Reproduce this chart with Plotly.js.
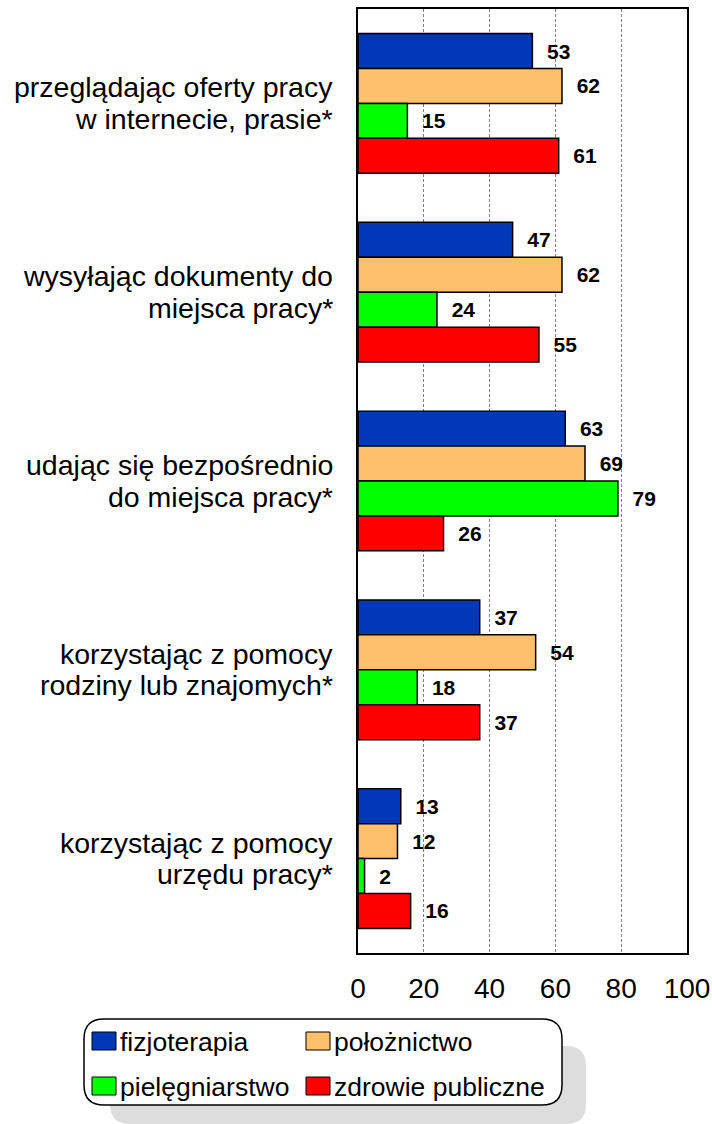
<!DOCTYPE html>
<html>
<head>
<meta charset="utf-8">
<script src="https://cdn.plot.ly/plotly-3.0.1.min.js"></script>
<style>html,body{margin:0;padding:0;background:#fff;}#chart{width:712px;height:1124px;}</style>
</head>
<body>
<div id="chart"></div>
<script>
// ---- data ----
const categories = [
  'przeglądając oferty pracy<br>w internecie, prasie*',
  'wysyłając dokumenty do<br>miejsca pracy*',
  'udając się bezpośrednio<br>do miejsca pracy*',
  'korzystając z pomocy<br>rodziny lub znajomych*',
  'korzystając z pomocy<br>urzędu pracy*'
];
const seriesNames = ['fizjoterapia', 'położnictwo', 'pielęgniarstwo', 'zdrowie publiczne'];
const fizjoterapia = [53, 47, 63, 37, 13];
const poloznictwo = [62, 62, 69, 54, 12];
const pielegniarstwo = [15, 24, 79, 18, 2];
const zdrowiePubliczne = [61, 55, 26, 37, 16];
const xTickValues = [0, 20, 40, 60, 80, 100];

const colors = ['#0038B8', '#FFC06C', '#00FF00', '#FF0000'];
const allSeries = [fizjoterapia, poloznictwo, pielegniarstwo, zdrowiePubliczne];

const FONT = 'Arial, "Liberation Sans", sans-serif';

const traces = allSeries.map((vals, i) => ({
  type: 'bar',
  orientation: 'h',
  name: seriesNames[i],
  y: categories,
  x: vals,
  marker: {color: colors[i], line: {color: '#000', width: 1.5}},
  text: vals.map(v => '\u00a0\u00a0' + v),
  textposition: 'outside',
  constraintext: 'none',
  cliponaxis: false,
  textfont: {family: FONT, size: 21, color: '#000', weight: 'bold'},
  hoverinfo: 'x+name',
  showlegend: false
}));

// plot area in pixels
const L = 358, R = 687, T = 9, B = 953;
const px = p => (p - L) / (R - L);
const py = p => (B - p) / (B - T);

function roundRect(x0, y0, x1, y1, r) {
  const X = px, Y = py;
  return 'M' + X(x0 + r) + ',' + Y(y0) +
    ' L' + X(x1 - r) + ',' + Y(y0) +
    ' Q' + X(x1) + ',' + Y(y0) + ' ' + X(x1) + ',' + Y(y0 + r) +
    ' L' + X(x1) + ',' + Y(y1 - r) +
    ' Q' + X(x1) + ',' + Y(y1) + ' ' + X(x1 - r) + ',' + Y(y1) +
    ' L' + X(x0 + r) + ',' + Y(y1) +
    ' Q' + X(x0) + ',' + Y(y1) + ' ' + X(x0) + ',' + Y(y1 - r) +
    ' L' + X(x0) + ',' + Y(y0 + r) +
    ' Q' + X(x0) + ',' + Y(y0) + ' ' + X(x0 + r) + ',' + Y(y0) + ' Z';
}

const shapes = [
  {type: 'path', xref: 'paper', yref: 'paper', path: roundRect(110, 1046, 586, 1124, 20),
   fillcolor: '#DDDDDD', line: {width: 0}},
  {type: 'path', xref: 'paper', yref: 'paper', path: roundRect(84, 1019, 562, 1105, 20),
   fillcolor: '#FFFFFF', line: {color: '#000', width: 1.5}}
];
const annotations = [];

// category labels, one annotation per text line
categories.forEach(c => {
  const lines = c.split('<br>');
  lines.forEach((t, k) => {
    annotations.push({xref: 'paper', yref: 'y', x: 0, y: c, xanchor: 'right', yanchor: 'middle',
      xshift: -23, yshift: k === 0 ? 16 : -15.5, showarrow: false, text: t,
      font: {family: FONT, size: 28.5, color: '#000'}});
  });
});

const legendPos = [[92, 1041], [306, 1041], [92, 1086], [306, 1086]];
seriesNames.forEach((n, i) => {
  const [lx, ly] = legendPos[i];
  shapes.push({type: 'rect', xref: 'paper', yref: 'paper',
    x0: px(lx), x1: px(lx + 24), y0: py(ly - 9), y1: py(ly + 9),
    fillcolor: colors[i], line: {color: '#000', width: 1}});
  annotations.push({xref: 'paper', yref: 'paper', x: px(lx + 26), y: py(ly + 1),
    xanchor: 'left', yanchor: 'middle', showarrow: false, text: n,
    font: {family: FONT, size: 26.5, color: '#000'}});
});

const layout = {
  width: 712, height: 1124,
  margin: {l: L, r: 712 - R, t: T, b: 1124 - B, pad: 0},
  paper_bgcolor: '#fff', plot_bgcolor: '#fff',
  barmode: 'group',
  bargap: 0.26,
  bargroupgap: 0,
  showlegend: false,
  font: {family: FONT, color: '#000'},
  xaxis: {
    range: [0, 100], tickvals: xTickValues, ticktext: xTickValues.map(String),
    showgrid: true, gridcolor: '#808080', griddash: '3px,2px', gridwidth: 1,
    zeroline: false, showline: true, mirror: true, linecolor: '#000', linewidth: 2,
    ticks: '', tickfont: {family: FONT, size: 28, color: '#000'},
    ticklabelstandoff: 9, fixedrange: true
  },
  yaxis: {
    type: 'category', autorange: false, range: [4.5, -0.5],
    showgrid: false, zeroline: false, showline: true, mirror: true,
    linecolor: '#000', linewidth: 2, ticks: '', showticklabels: false,
    fixedrange: true
  },
  shapes: shapes,
  annotations: annotations
};

Plotly.newPlot('chart', traces, layout, {displayModeBar: false, staticPlot: true});
</script>
</body>
</html>
